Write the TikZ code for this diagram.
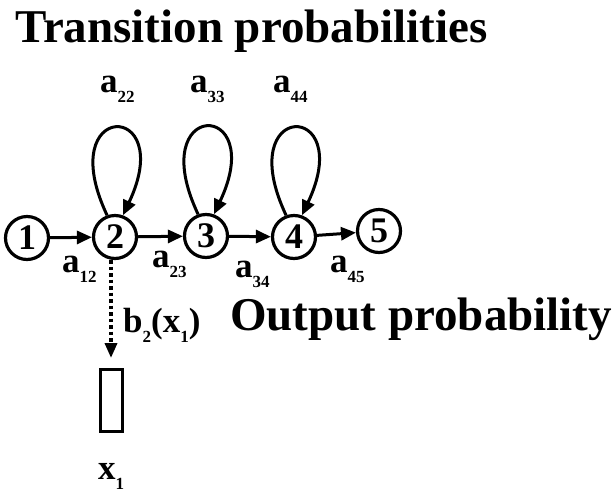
\documentclass[tikz,border=0pt]{standalone}
\usepackage{fontspec}
\setmainfont{Liberation Serif}
\usetikzlibrary{arrows.meta,positioning}
\tikzset{
  state/.style={circle,draw,line width=3.2pt,minimum size=43pt,inner sep=0pt,
    font=\fontsize{36}{36}\selectfont\bfseries},
  trans/.style={line width=3pt,-{Triangle[length=15pt,width=13pt]}},
  emit/.style={line width=3.5pt,dash pattern=on 3.5pt off 3pt,
    -{Triangle[length=15pt,width=12pt]}},
  prob/.style={inner sep=0pt,anchor=base west,font=\fontsize{35}{35}\selectfont\bfseries},
  heading/.style={inner sep=0pt,anchor=base west,font=\fontsize{47}{47}\selectfont\bfseries},
}
\newcommand{\subx}[1]{\raisebox{-10pt}{\fontsize{17}{17}\selectfont #1}}
\begin{document}
\begin{tikzpicture}[x=1pt,y=-1pt]
  \useasboundingbox (0,0) rectangle (615,493);
  \node[heading] (title) at (15,42) {Transition probabilities};

  % States of the chain
  \node[state] (s1) at (27,238) {1};
  \node[state] (s2) at (115,237) {2};
  \node[state] (s3) at (206,236) {3};
  \node[state] (s4) at (294,237) {4};
  \node[state] (s5) at (379,231) {5};

  \draw[trans] (s1) -- (s2);
  \draw[trans] (s2) -- (s3);
  \draw[trans] (s3) -- (s4);
  \draw[trans] (s4) -- (s5);

  % Self loops
  \draw[trans] (s2.110) .. controls +(-55,-116) and +(55,-116) .. (s2.70);
  \draw[trans] (s3.110) .. controls +(-55,-116) and +(55,-116) .. (s3.70);
  \draw[trans] (s4.110) .. controls +(-55,-116) and +(55,-116) .. (s4.70);

  \node[prob] (a22) at (100,92) {a\subx{22}};
  \node[prob] (a33) at (190,92) {a\subx{33}};
  \node[prob] (a44) at (273,92) {a\subx{44}};
  \node[prob] (a12) at (62,272) {a\subx{12}};
  \node[prob] (a23) at (152,267) {a\subx{23}};
  \node[prob] (a34) at (235,277) {a\subx{34}};
  \node[prob] (a45) at (330,272) {a\subx{45}};

  % Output
  \node[draw,line width=3pt,minimum width=22pt,minimum height=62pt,inner sep=0pt]
    (obs) at (111,400.5) {};
  \draw[emit] (s2.south -| obs.north) -- ([yshift=10pt]obs.north);
  \node[prob] (b2) at (123,332) {b\subx{2}(x\subx{1})};
  \node[heading] (outp) at (230,330) {Output probability};
  \node[prob] (x1) at (98,479) {x\subx{1}};
\end{tikzpicture}
\end{document}
